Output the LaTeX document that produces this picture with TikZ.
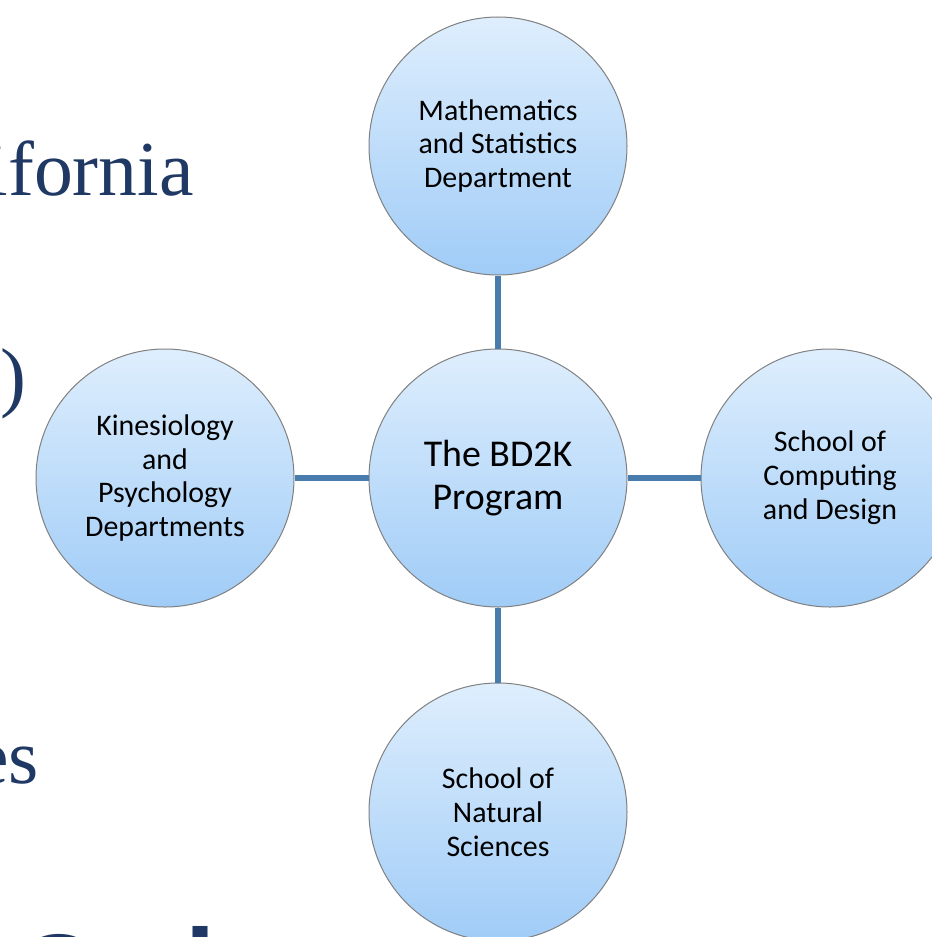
\documentclass[tikz,border=0pt]{standalone}
\usepackage{fontspec}
\setmainfont{Carlito}
\newfontfamily\slidefont{Liberation Serif}
\definecolor{slidenavy}{RGB}{31,56,100}
\definecolor{bubbletop}{RGB}{222,238,253}
\definecolor{bubblebot}{RGB}{160,204,247}
\definecolor{linkblue}{RGB}{72,124,172}
\tikzstyle{bubble}=[shape=circle,minimum size=258bp,inner sep=0,draw=gray,line width=1bp,top color=bubbletop,bottom color=bubblebot,align=center,font=\fontsize{30}{34}\selectfont]
\tikzstyle{slidetext}=[slidenavy,inner sep=0,font=\slidefont\fontsize{78}{80}\selectfont]
\tikzstyle{link}=[linkblue,line width=6bp]

\begin{document}
\begin{tikzpicture}[x=1bp,y=-1bp]
\useasboundingbox (0,0) rectangle (932,937);
\clip (0,0) rectangle (932,937);

% slide text behind the diagram
\node[slidetext,anchor=base east] (cal) at (194,195) {ifornia};
\node[slidetext,anchor=base east] (paren) at (27,402) {)};
\node[slidetext,anchor=base east] (ies) at (39,783) {es};
\node[slidenavy,inner sep=0,anchor=base west,font=\fontsize{175}{180}\selectfont] (big) at (4,1047) {Cal};

\node[bubble,font=\fontsize{38}{43}\selectfont] (core) at (498,478) {The BD2K\\ Program};
\node[bubble] (math) at (498,146) {Mathematics\\ and Statistics\\ Department};
\node[bubble] (kin) at (165,478) {Kinesiology\\ and\\ Psychology\\ Departments};
\node[bubble] (comp) at (830,478) {School of\\ Computing\\ and Design};
\node[bubble] (nat) at (498,812) {School of\\ Natural\\ Sciences};

\draw[link] (math) -- (core);
\draw[link] (kin) -- (core);
\draw[link] (core) -- (comp);
\draw[link] (core) -- (nat);
\end{tikzpicture}
\end{document}
